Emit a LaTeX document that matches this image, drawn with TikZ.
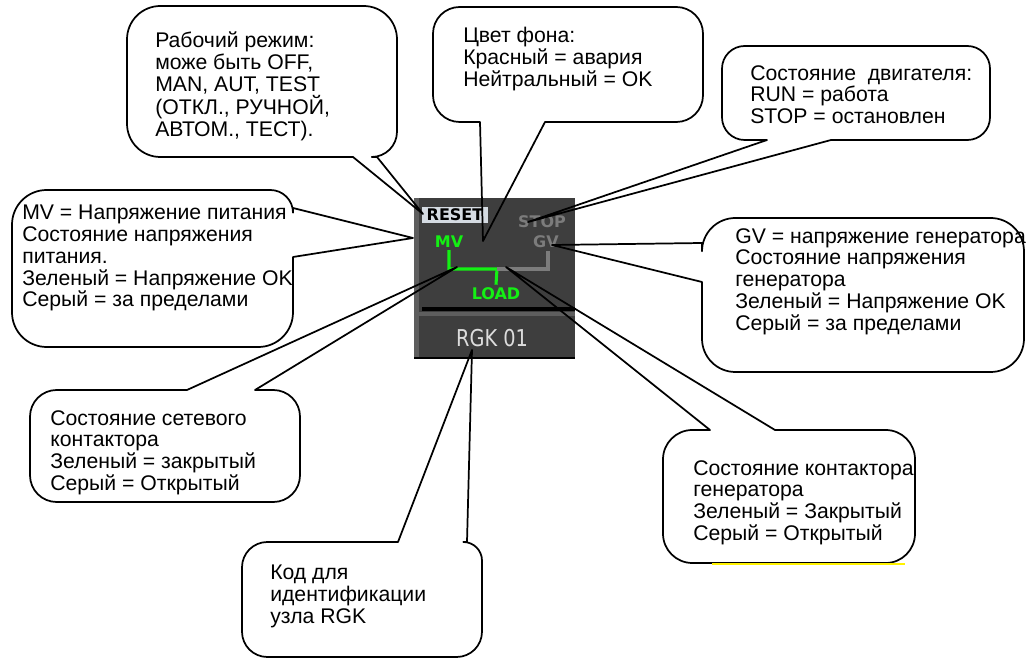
\documentclass[tikz,border=0pt]{standalone}
\usepackage{fontspec}
\usepackage{graphicx}
\setmainfont{Liberation Sans}
\newfontfamily\panelfont{DejaVu Sans}
\usetikzlibrary{positioning,calc}

\definecolor{panelgrey}{HTML}{3E3E3E}
\definecolor{panelrim}{HTML}{5E5E5E}
\definecolor{resetbg}{HTML}{D5DBE2}
\definecolor{offgrey}{HTML}{7C7C7C}
\definecolor{ongreen}{HTML}{14F014}
\definecolor{idgrey}{HTML}{DCDCDC}

\begin{document}
\begin{tikzpicture}[x=0.75pt,y=-0.75pt,
   note/.style={align=left, anchor=north west, inner sep=0pt,
      font=\fontsize{15.9}{16.3}\selectfont},
   bubble/.style={line width=1.3pt, line join=round},
   lbl/.style={inner sep=0pt, font=\panelfont\bfseries\fontsize{12}{12}\selectfont},
   greenline/.style={ongreen, line width=2.3pt},
   greyline/.style={offgrey, line width=2.3pt}]

\useasboundingbox (0,0) rectangle (1026,659);

% RGK panel
\fill[panelgrey] (414,198) rectangle (575,358);
\fill[panelrim] (414,198) rectangle (419,358);
\draw[black, line width=1.2pt] (414,358) -- (575,358);
\draw[black, line width=2.3pt] (422,309) -- (575,309);
\fill[panelrim] (419,312) rectangle (575,316);

\node[lbl, fill=resetbg, minimum width=49pt, minimum height=12pt] (resetbtn) at (455,215) {RESET};
\node[lbl, offgrey] (stoplbl) at (542,222) {STOP};
\node[lbl, offgrey] (gvlbl) at (546,242) {GV};
\node[lbl, ongreen] (mvlbl) at (449,242) {MV};
\node[lbl, ongreen] (loadlbl) at (496,294) {LOAD};
\node[inner sep=0pt, idgrey, font=\panelfont\fontsize{14.5}{14.5}\selectfont] (idlbl) at (492,338) {\scalebox{1}[1.2]{RGK 01}};

% contactor lines
\coordinate (bus) at (497,269);
\draw[greenline] (mvlbl.south) ++(0,2) |- (bus) -- ($(loadlbl.north)+(0,-3)$);
\draw[greyline] (bus) -| ($(gvlbl.south)+(2,3)$);

% where the callouts point
\coordinate (reset) at (423,214);
\coordinate (bg) at (483,241);
\coordinate (motor) at (528,222);
\coordinate (mv) at (413,238);
\coordinate (gv) at (552,245);
\coordinate (mains) at (457,267);
\coordinate (gen) at (506,267);
\coordinate (code) at (472,350);

% callouts: wedge first, then the rounded box back round to it
\draw[bubble] (353,157) -- (reset) -- (377,157) [rounded corners=19]
   -- (397,157) [rounded corners=25] -- (397,6) -- (127,6) -- (127,157) [sharp corners] -- cycle;
\draw[bubble] (480,122) -- (bg) -- (545,122) [rounded corners=20]
   -- (703,122) -- (703,7) -- (433,7) -- (433,122) [sharp corners] -- cycle;
\draw[bubble] (767,140) -- (motor) -- (831,140) [rounded corners=17]
   -- (990,140) -- (990,46) -- (722,46) -- (722,140) [sharp corners] -- cycle;
\draw[bubble] (293,208) -- (mv) -- (293,257) [rounded corners=26]
   -- (293,347) -- (12,347) -- (12,190) [rounded corners=17] -- (293,190) [sharp corners] -- cycle;
\draw[bubble] (702,282) -- (gv) -- (702,243) [rounded corners=25]
   -- (702,218) -- (1024,218) -- (1024,372) -- (702,372) [sharp corners] -- cycle;
\draw[bubble] (255,390) -- (mains) -- (187,390) [rounded corners=20]
   -- (30,390) -- (30,502) -- (300,502) -- (300,390) [sharp corners] -- cycle;
\draw[bubble] (775,430) -- (gen) -- (710,430) [rounded corners=22]
   -- (663,430) -- (663,563) -- (915,563) -- (915,430) [sharp corners] -- cycle;
\draw[bubble] (467,542) -- (code) -- (398,542) [rounded corners=19]
   -- (242,542) -- (242,657) -- (482,657) [rounded corners=14] -- (482,542) [sharp corners] -- cycle;
\draw[yellow, line width=0.8pt] (712,564) -- (905,564);

\node[note] (modetxt) at (155,32) {Рабочий режим:\\може быть OFF,\\MAN, AUT, TEST\\(ОТКЛ., РУЧНОЙ,\\АВТОМ., ТЕСТ).};
\node[note] (bgtxt) at (463,27) {Цвет фона:\\Красный = авария\\Нейтральный = OK};
\node[note] (motortxt) at (750,65) {Состояние\ \ двигателя:\\RUN = работа\\STOP = остановлен};
\node[note] (mvtxt) at (22,205) {MV = Напряжение питания\\Состояние напряжения\\питания.\\Зеленый = Напряжение OK\\Серый = за пределами};
\node[note] (gvtxt) at (735,228) {GV = напряжение генератора\\Состояние напряжения\\генератора\\Зеленый = Напряжение OK\\Серый = за пределами};
\node[note] (mainstxt) at (50,410) {Состояние сетевого\\контактора\\Зеленый = закрытый\\Серый = Открытый};
\node[note] (gentxt) at (693,460) {Состояние контактора\\генератора\\Зеленый = Закрытый\\Серый = Открытый};
\node[note] (codetxt) at (270,565) {Код для\\идентификации\\узла RGK};

\end{tikzpicture}
\end{document}
